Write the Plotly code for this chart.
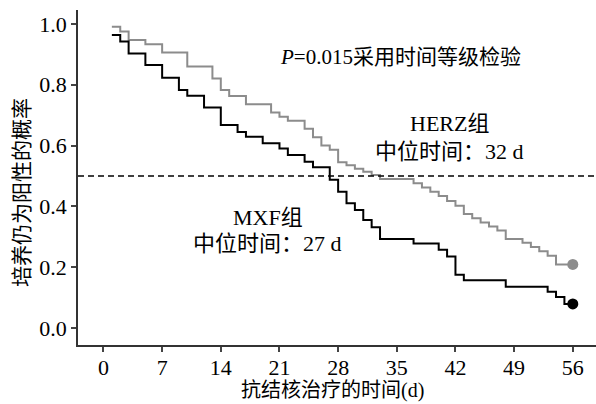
import plotly.graph_objects as go

# Kaplan-Meier style step data (day of event, probability after event)
herz_days = [1, 2, 3, 5, 7, 10, 13, 14, 15, 17, 20, 21, 22, 24, 25, 26, 27, 28, 29, 30,
             31, 32, 33, 37, 38, 39, 40, 41, 42, 43, 44, 45, 46, 47, 48, 50, 51, 52, 53, 54]
herz_surv = [0.991, 0.975, 0.947, 0.933, 0.906, 0.860, 0.821, 0.783, 0.763, 0.736, 0.709,
             0.695, 0.682, 0.655, 0.627, 0.600, 0.586, 0.545, 0.535, 0.524, 0.514, 0.503,
             0.490, 0.476, 0.462, 0.448, 0.434, 0.418, 0.402, 0.375, 0.361, 0.347, 0.334,
             0.321, 0.293, 0.280, 0.266, 0.252, 0.238, 0.209]

mxf_days = [1, 2, 3, 5, 7, 9, 10, 12, 14, 16, 17, 19, 21, 22, 24, 25, 27, 28, 29, 30,
            31, 32, 33, 37, 40, 41, 42, 43, 48, 53, 54, 55]
mxf_surv = [0.964, 0.942, 0.903, 0.865, 0.823, 0.783, 0.764, 0.725, 0.668, 0.645, 0.629,
            0.608, 0.590, 0.569, 0.547, 0.529, 0.488, 0.448, 0.410, 0.388, 0.355, 0.331,
            0.293, 0.278, 0.257, 0.235, 0.175, 0.157, 0.136, 0.119, 0.102, 0.079]

end_day = 56
x_ticks = [0, 7, 14, 21, 28, 35, 42, 49, 56]
y_ticks = [0.0, 0.2, 0.4, 0.6, 0.8, 1.0]
y_tick_labels = ["0.0", "0.2", "0.4", "0.6", "0.8", "1.0"]
median_level = 0.5

GRAY = "#8c8c8c"
BLACK = "#000000"
FONT = "Liberation Serif, Times New Roman, Noto Sans CJK SC, serif"

fig = go.Figure()

for days, surv, color in [(herz_days, herz_surv, GRAY), (mxf_days, mxf_surv, BLACK)]:
    xs = days + [end_day]
    ys = surv + [surv[-1]]
    fig.add_trace(go.Scatter(x=xs, y=ys, mode="lines", line=dict(color=color, width=2, shape="hv"),
                             showlegend=False, hoverinfo="skip"))
    fig.add_trace(go.Scatter(x=[end_day], y=[surv[-1]], mode="markers",
                             marker=dict(color=color, size=11), showlegend=False, hoverinfo="skip"))

fig.add_shape(type="line", xref="paper", x0=0, x1=1, yref="y", y0=median_level, y1=median_level,
              line=dict(color="black", width=1.3, dash="6px,4px"))

ann_font = dict(family=FONT, size=22, color="black")
fig.add_annotation(x=35.4, y=0.891, text="<i>P</i>=0.015采用时间等级检验", showarrow=False,
                   font=dict(family=FONT, size=21, color="black"))
fig.add_annotation(x=41.3, y=0.672, text="HERZ组", showarrow=False, font=ann_font)
fig.add_annotation(x=41.3, y=0.580, text="中位时间：32 d", showarrow=False, font=ann_font)
fig.add_annotation(x=19.6, y=0.362, text="MXF组", showarrow=False, font=ann_font)
fig.add_annotation(x=19.6, y=0.277, text="中位时间：27 d", showarrow=False, font=ann_font)

# axis titles placed as paper annotations
fig.add_annotation(xref="paper", yref="paper", x=0.492, y=-0.137, xanchor="center", yanchor="middle",
                   text="抗结核治疗的时间(d)", showarrow=False,
                   font=dict(family=FONT, size=20, color="black"))
fig.add_annotation(xref="paper", yref="paper", x=-0.108, y=0.4537, xanchor="center", yanchor="middle",
                   text="培养仍为阳性的概率", textangle=-90, showarrow=False,
                   font=dict(family=FONT, size=21, color="black"))

fig.update_layout(
    width=596, height=404,
    margin=dict(l=78, r=0, t=10, b=59),
    plot_bgcolor="white", paper_bgcolor="white",
    font=dict(family=FONT, size=22, color="black"),
    xaxis=dict(range=[-3.04, 58.77], tickvals=x_ticks, ticks="outside", ticklen=5,
               tickcolor="#444", tickwidth=1.5, showline=True, linecolor="#333", linewidth=1.5,
               showgrid=False, zeroline=False, automargin=False, tickfont=dict(size=22),
               ticklabelstandoff=-3),
    yaxis=dict(range=[-0.056, 1.046], tickvals=y_ticks, ticktext=y_tick_labels, ticks="outside",
               ticklen=5, tickcolor="#444", tickwidth=1.5, showline=True, linecolor="#333",
               linewidth=1.5, showgrid=False, zeroline=False, automargin=False,
               tickfont=dict(size=22)),
)

fig.write_html("out.html", config={"displayModeBar": False},
               post_script="document.body.style.margin='0';")
